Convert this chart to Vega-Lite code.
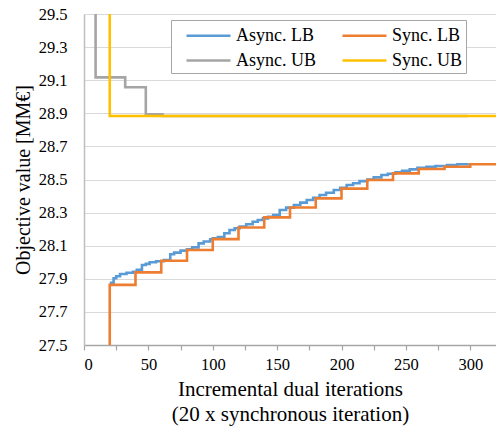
{
  "$schema": "https://vega.github.io/schema/vega-lite/v6.json",
  "autosize": "none",
  "width": 412,
  "height": 331,
  "padding": {"left": 84, "top": 14, "right": 0, "bottom": 81},
  "background": "white",
  "config": {
    "view": {"stroke": null},
    "font": "Liberation Serif",
    "axis": {"labelFont": "Liberation Serif", "titleFont": "Liberation Serif", "labelColor": "#000", "titleColor": "#000", "titleFontWeight": "normal"},
    "legend": {"labelFont": "Liberation Serif"}
  },
  "data": {
    "values": [
      {"s": "Async. LB", "x": 20, "y": 27.876},
      {"s": "Async. LB", "x": 23, "y": 27.903},
      {"s": "Async. LB", "x": 25, "y": 27.915},
      {"s": "Async. LB", "x": 28, "y": 27.929},
      {"s": "Async. LB", "x": 33, "y": 27.937},
      {"s": "Async. LB", "x": 38, "y": 27.943},
      {"s": "Async. LB", "x": 41, "y": 27.955},
      {"s": "Async. LB", "x": 45, "y": 27.983},
      {"s": "Async. LB", "x": 48, "y": 27.99},
      {"s": "Async. LB", "x": 51, "y": 28.0},
      {"s": "Async. LB", "x": 56, "y": 28.006},
      {"s": "Async. LB", "x": 62, "y": 28.014},
      {"s": "Async. LB", "x": 67, "y": 28.048},
      {"s": "Async. LB", "x": 70, "y": 28.058},
      {"s": "Async. LB", "x": 75, "y": 28.07},
      {"s": "Async. LB", "x": 80, "y": 28.078},
      {"s": "Async. LB", "x": 84, "y": 28.09},
      {"s": "Async. LB", "x": 89, "y": 28.114},
      {"s": "Async. LB", "x": 93, "y": 28.125},
      {"s": "Async. LB", "x": 98, "y": 28.139},
      {"s": "Async. LB", "x": 100, "y": 28.145},
      {"s": "Async. LB", "x": 104, "y": 28.152},
      {"s": "Async. LB", "x": 109, "y": 28.175},
      {"s": "Async. LB", "x": 113, "y": 28.195},
      {"s": "Async. LB", "x": 117, "y": 28.205},
      {"s": "Async. LB", "x": 121, "y": 28.215},
      {"s": "Async. LB", "x": 126, "y": 28.23},
      {"s": "Async. LB", "x": 131, "y": 28.245},
      {"s": "Async. LB", "x": 135, "y": 28.255},
      {"s": "Async. LB", "x": 139, "y": 28.265},
      {"s": "Async. LB", "x": 143, "y": 28.275},
      {"s": "Async. LB", "x": 147, "y": 28.285},
      {"s": "Async. LB", "x": 152, "y": 28.316},
      {"s": "Async. LB", "x": 157, "y": 28.33},
      {"s": "Async. LB", "x": 163, "y": 28.346},
      {"s": "Async. LB", "x": 168, "y": 28.36},
      {"s": "Async. LB", "x": 173, "y": 28.376},
      {"s": "Async. LB", "x": 178, "y": 28.39},
      {"s": "Async. LB", "x": 183, "y": 28.406},
      {"s": "Async. LB", "x": 188, "y": 28.42},
      {"s": "Async. LB", "x": 194, "y": 28.437},
      {"s": "Async. LB", "x": 199, "y": 28.45},
      {"s": "Async. LB", "x": 204, "y": 28.467},
      {"s": "Async. LB", "x": 209, "y": 28.477},
      {"s": "Async. LB", "x": 214, "y": 28.49},
      {"s": "Async. LB", "x": 220, "y": 28.5},
      {"s": "Async. LB", "x": 225, "y": 28.513},
      {"s": "Async. LB", "x": 231, "y": 28.527},
      {"s": "Async. LB", "x": 236, "y": 28.535},
      {"s": "Async. LB", "x": 242, "y": 28.543},
      {"s": "Async. LB", "x": 247, "y": 28.552},
      {"s": "Async. LB", "x": 253, "y": 28.561},
      {"s": "Async. LB", "x": 259, "y": 28.57},
      {"s": "Async. LB", "x": 266, "y": 28.577},
      {"s": "Async. LB", "x": 273, "y": 28.582},
      {"s": "Async. LB", "x": 282, "y": 28.587},
      {"s": "Async. LB", "x": 290, "y": 28.592},
      {"s": "Async. LB", "x": 298, "y": 28.598},
      {"s": "Sync. LB", "x": 20, "y": 27.5},
      {"s": "Sync. LB", "x": 20, "y": 27.863},
      {"s": "Sync. LB", "x": 40, "y": 27.939},
      {"s": "Sync. LB", "x": 60, "y": 28.009},
      {"s": "Sync. LB", "x": 80, "y": 28.074},
      {"s": "Sync. LB", "x": 100, "y": 28.14},
      {"s": "Sync. LB", "x": 120, "y": 28.21},
      {"s": "Sync. LB", "x": 140, "y": 28.271},
      {"s": "Sync. LB", "x": 160, "y": 28.331},
      {"s": "Sync. LB", "x": 180, "y": 28.386},
      {"s": "Sync. LB", "x": 200, "y": 28.445},
      {"s": "Sync. LB", "x": 220, "y": 28.497},
      {"s": "Sync. LB", "x": 240, "y": 28.537},
      {"s": "Sync. LB", "x": 260, "y": 28.563},
      {"s": "Sync. LB", "x": 280, "y": 28.577},
      {"s": "Sync. LB", "x": 300, "y": 28.592},
      {"s": "Sync. LB", "x": 320, "y": 28.592},
      {"s": "Async. UB", "x": 9, "y": 29.6},
      {"s": "Async. UB", "x": 9, "y": 29.117},
      {"s": "Async. UB", "x": 32, "y": 29.057},
      {"s": "Async. UB", "x": 48, "y": 28.894},
      {"s": "Async. UB", "x": 61, "y": 28.884},
      {"s": "Async. UB", "x": 298, "y": 28.884},
      {"s": "Sync. UB", "x": 20, "y": 29.6},
      {"s": "Sync. UB", "x": 20, "y": 28.884},
      {"s": "Sync. UB", "x": 320, "y": 28.884}
    ]
  },
  "mark": {"type": "line", "interpolate": "step-after", "strokeWidth": 2.6, "clip": true},
  "encoding": {
    "x": {
      "field": "x", "type": "quantitative",
      "scale": {"domain": [0, 320], "nice": false},
      "axis": {
        "values": [0, 25, 50, 75, 100, 125, 150, 175, 200, 225, 250, 275, 300],
        "labelExpr": "datum.value % 50 === 0 ? datum.label : ''",
        "grid": false,
        "domainColor": "#a6a6a6", "domainWidth": 1.5,
        "tickColor": "#a6a6a6", "tickSize": 5, "tickWidth": 1.2,
        "labelFontSize": 16.5, "labelPadding": 6,
        "title": ["Incremental dual iterations", "(20 x synchronous iteration)"],
        "titleFontSize": 21, "titleLineHeight": 25, "titlePadding": 6
      }
    },
    "y": {
      "field": "y", "type": "quantitative",
      "scale": {"domain": [27.5, 29.5], "nice": false, "zero": false},
      "axis": {
        "values": [27.5, 27.7, 27.9, 28.1, 28.3, 28.5, 28.7, 28.9, 29.1, 29.3, 29.5],
        "format": ".1f",
        "ticks": false,
        "gridColor": "#d9d9d9", "gridWidth": 1.2,
        "domainColor": "#bfbfbf", "domainWidth": 1.5,
        "labelFontSize": 16.5, "labelPadding": 17,
        "title": "Objective value [MM€]",
        "titleFontSize": 20, "titlePadding": 5
      }
    },
    "color": {
      "field": "s", "type": "nominal",
      "scale": {"domain": ["Async. LB", "Async. UB", "Sync. LB", "Sync. UB"], "range": ["#5B9BD5", "#A5A5A5", "#ED7D31", "#FFC000"]},
      "legend": {
        "title": null,
        "orient": "none",
        "legendX": 87,
        "legendY": 6,
        "columns": 2,
        "symbolType": "M-2,0H2",
        "symbolSize": 484,
        "symbolStrokeWidth": 2.6,
        "symbolOffset": 22,
        "labelFont": "Liberation Serif",
        "labelFontSize": 18,
        "labelOffset": 15,
        "labelExpr": "indexof(datum.label, 'Sync') === 0 ? datum.label + '     ' : datum.label",
        "columnPadding": 14,
        "rowPadding": 3,
        "padding": 3,
        "strokeColor": "#a6a6a6",
        "fillColor": "white"
      }
    }
  }
}
